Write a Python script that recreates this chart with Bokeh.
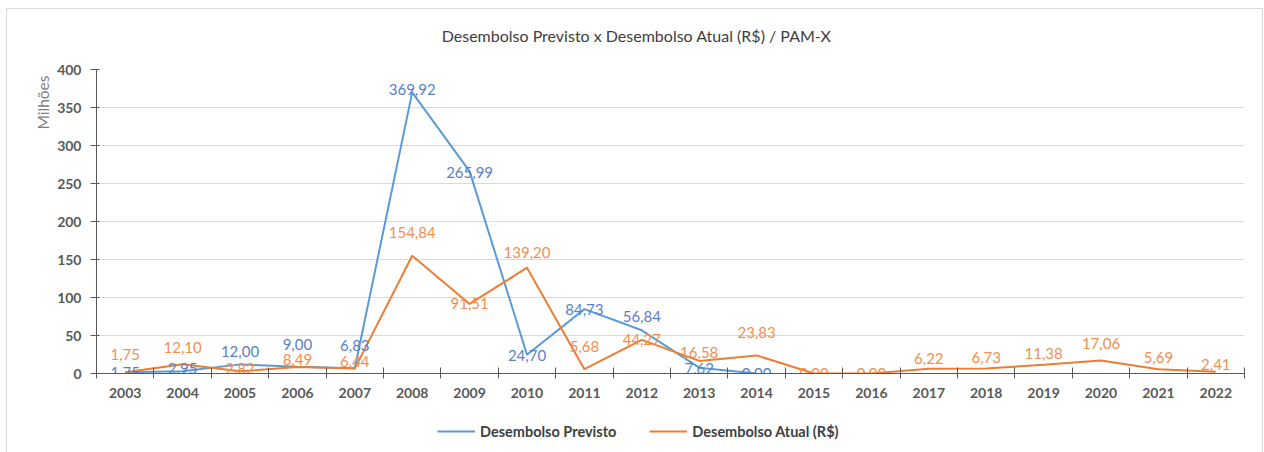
import math
from bokeh.plotting import figure
from bokeh.layouts import column
from bokeh.models import (Range1d, LinearAxis, FixedTicker, CustomJSTickFormatter,
                          ColumnDataSource, Legend, LegendItem, Title, Label)
from bokeh.core.properties import value
from bokeh.embed import file_html
from bokeh.resources import INLINE

# ---------------- data ----------------
years = [str(y) for y in range(2003, 2023)]
previsto = [1.75, 2.95, 12.00, 9.00, 6.83, 369.92, 265.99, 24.70, 84.73, 56.84, 7.62, 0.00]
atual = [1.75, 12.10, 2.82, 8.49, 6.44, 154.84, 91.51, 139.20, 5.68, 44.27, 16.58, 23.83,
         0.00, 0.00, 6.22, 6.73, 11.38, 17.06, 5.69, 2.41]
y_ticks = [0, 50, 100, 150, 200, 250, 300, 350, 400]
title_text = "Desembolso Previsto x Desembolso Atual (R$) / PAM-X"
y_unit_label = "Milhões"
series_names = ["Desembolso Previsto", "Desembolso Atual (R$)"]

# label placement (pixels above the point), as laid out in the original
previsto_label_up = [0, 3, 13, 22, 23, 3, -1, -1, 0, 14, -1, 0]
atual_label_up = [18, 17, 3, 8, 7, 23, 0, 15, 23, 0, 8, 23, 0, 0, 10, 11, 11, 17, 12, 7]

# ---------------- styling ----------------
FONT = "Lato"
BLUE = "#5b9bd5"
ORANGE = "#ed7d31"
BLUE_TXT = "#5a7fc8"
ORANGE_TXT = "#f08f52"
AXIS_C = "#595959"
TXT_C = "#404040"
W = 1255


def fmt(v):
    return f"{v:.2f}".replace(".", ",")


def bare(fig):
    fig.outline_line_color = None
    fig.xgrid.grid_line_color = None
    fig.ygrid.grid_line_color = None
    fig.border_fill_color = "white"
    fig.background_fill_color = "white"


n = len(years)
centers = [i + 0.5 for i in range(n)]

src_p = ColumnDataSource(dict(x=centers[:len(previsto)], y=previsto,
                              t=[fmt(v) for v in previsto],
                              dy=[-d for d in previsto_label_up]))
src_a = ColumnDataSource(dict(x=centers[:len(atual)], y=atual,
                              t=[fmt(v) for v in atual],
                              dy=[-d for d in atual_label_up]))

# ---------- title strip ----------
top = figure(width=W, height=51, output_backend="svg", toolbar_location=None,
             x_range=Range1d(0, 1), y_range=Range1d(0, 1),
             x_axis_location=None, y_axis_location=None, min_border=0)
bare(top)
top.add_layout(Label(x=0.5, y=0.5, x_offset=-34, text=title_text, text_align="center",
                     text_baseline="middle", text_font=FONT, text_font_size="16px",
                     text_color=TXT_C))

# ---------- main chart ----------
p = figure(width=W, height=345, output_backend="svg", toolbar_location=None,
           x_range=Range1d(0, n), y_range=Range1d(0, 400),
           x_axis_location=None, y_axis_location="left",
           min_border_left=89, min_border_right=18, min_border_top=9, min_border_bottom=32)
bare(p)

p.ygrid.grid_line_color = "#d9d9d9"
p.ygrid.grid_line_width = 1
p.ygrid.ticker = FixedTicker(ticks=y_ticks)

ya = p.yaxis[0]
ya.ticker = FixedTicker(ticks=y_ticks)
ya.axis_line_color = AXIS_C
ya.major_tick_line_color = AXIS_C
ya.major_tick_out = 6
ya.major_tick_in = 3
ya.minor_tick_line_color = None
ya.major_label_standoff = 9
ya.major_label_text_font = FONT
ya.major_label_text_font_size = "14px"
ya.major_label_text_font_style = "bold"
ya.major_label_text_color = AXIS_C

# unit label on the left, at the top end of the axis
p.add_layout(Title(text=y_unit_label, align="right", offset=6, standoff=6,
                   text_font=FONT, text_font_size="15.5px", text_font_style="normal",
                   text_color="#7f7f7f"), "left")

# x axis: labels at category centers, tick marks at category boundaries
xa = LinearAxis(ticker=FixedTicker(ticks=centers, minor_ticks=list(range(n + 1))),
                formatter=CustomJSTickFormatter(args=dict(years=years),
                                                code="return years[Math.floor(tick)] || '';"))
xa.axis_line_color = AXIS_C
xa.axis_line_width = 1.2
xa.major_tick_line_color = None
xa.major_tick_out = 0
xa.major_tick_in = 0
xa.minor_tick_line_color = AXIS_C
xa.minor_tick_in = 6
xa.minor_tick_out = 5
xa.major_label_standoff = 9
xa.major_label_text_font = FONT
xa.major_label_text_font_size = "14px"
xa.major_label_text_font_style = "bold"
xa.major_label_text_color = AXIS_C
p.add_layout(xa, "below")

p.line("x", "y", source=src_p, line_color=BLUE, line_width=2)
p.line("x", "y", source=src_a, line_color=ORANGE, line_width=2)

p.text("x", "y", text="t", source=src_p, y_offset="dy", text_align="center",
       text_baseline="middle", text_font=value(FONT), text_font_size="15px",
       text_color=BLUE_TXT)
p.text("x", "y", text="t", source=src_a, y_offset="dy", text_align="center",
       text_baseline="middle", text_font=value(FONT), text_font_size="15px",
       text_color=ORANGE_TXT)

# ---------- legend strip (its view shows no data, only the legend) ----------
leg = figure(width=W, height=47, output_backend="svg", toolbar_location=None,
             x_range=Range1d(0, 1), y_range=Range1d(-2, -1),
             x_axis_location=None, y_axis_location=None, min_border=0)
bare(leg)
lr_p = leg.line("x", "y", source=src_p, line_color=BLUE, line_width=2)
lr_a = leg.line("x", "y", source=src_a, line_color=ORANGE, line_width=2)
legend = Legend(items=[LegendItem(label=series_names[0], renderers=[lr_p]),
                       LegendItem(label=series_names[1], renderers=[lr_a])],
                orientation="horizontal", location=(341, 11),
                glyph_width=38, glyph_height=20, label_standoff=5, spacing=33,
                padding=0, margin=0, border_line_color=None, background_fill_alpha=0,
                label_text_font=FONT, label_text_font_size="14.5px",
                label_text_font_style="bold", label_text_color=TXT_C)
leg.add_layout(legend, "center")

layout = column(top, p, leg, spacing=0)
layout.styles = {"border": "1px solid #d9d9d9", "margin-left": "6px", "margin-top": "8px"}

open("out.html", "w").write(file_html(layout, INLINE))
